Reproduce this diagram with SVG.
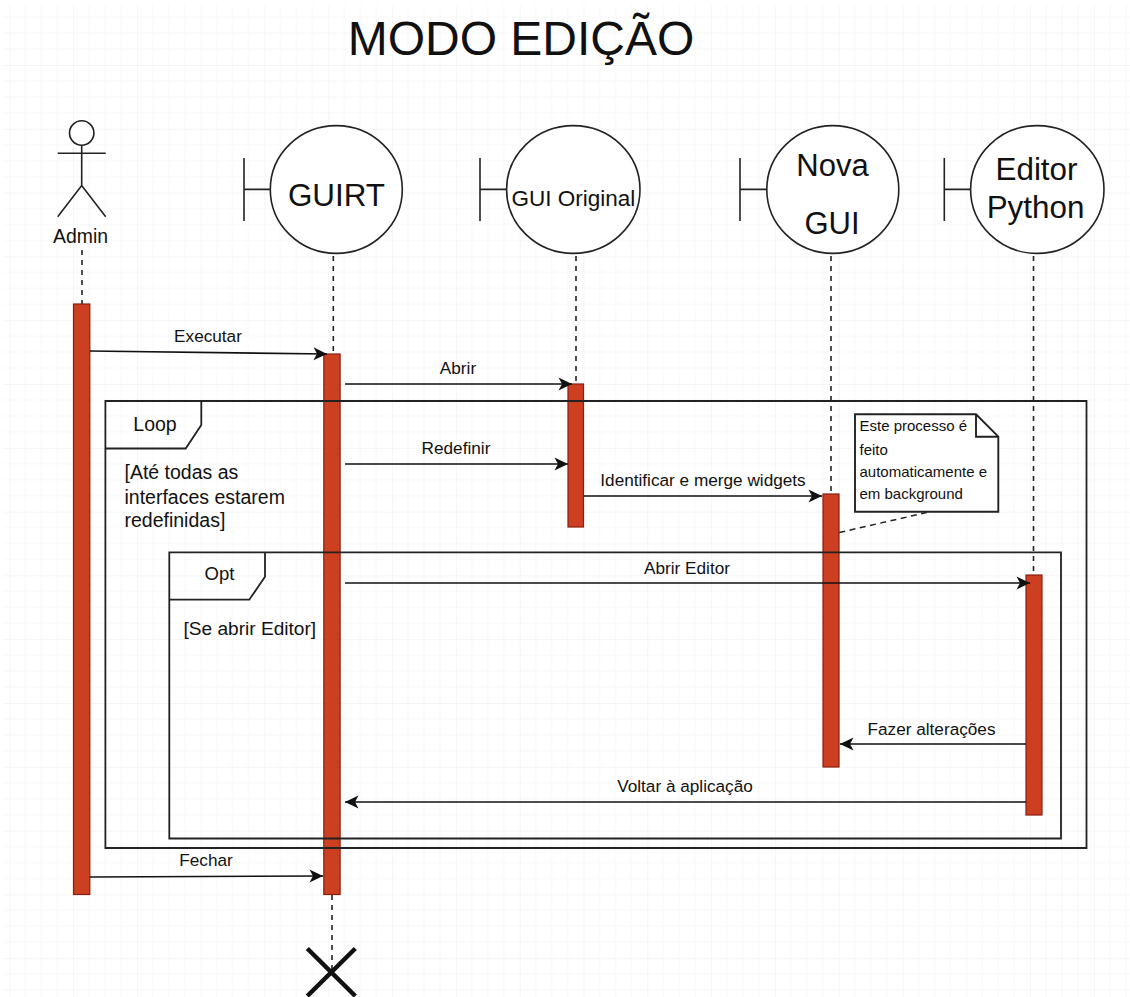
<svg xmlns="http://www.w3.org/2000/svg" width="1130" height="997" viewBox="0 0 1130 997">
<style>
text{font-family:"Liberation Sans",Arial,sans-serif;fill:#111}
.s{font-size:17.2px}
.m{text-anchor:middle}
.shape{fill:#fff;stroke:#222;stroke-width:1.6}
.frame{fill:none;stroke:#222;stroke-width:1.8}
.bar{fill:#cc3f21;stroke:#8a1f10;stroke-width:1.2}
.life{stroke:#222;stroke-width:1.6;stroke-dasharray:5 5;fill:none}
.msg{stroke:#111;stroke-width:1.6;fill:none;marker-end:url(#arr)}
.big{font-size:31.4px}
.limb{fill:none;stroke:#222;stroke-width:1.6}
.note{font-size:15px}
.fr{font-size:19.500px}
</style>
<defs>
<marker id="arr" viewBox="0 0 15 14" refX="14" refY="7" markerWidth="15" markerHeight="14" markerUnits="userSpaceOnUse" orient="auto">
<path d="M0.500 0.500 L14 7 L0.500 13.500 L4 7 Z" fill="#111"/>
</marker>
<pattern id="grid" patternUnits="userSpaceOnUse" x="9.3" y="1.2" width="63.8" height="63.8">
<path d="M15.95 0V63.8M31.9 0V63.8M47.85 0V63.8M0 15.95H63.8M0 31.9H63.8M0 47.85H63.8" stroke="#f8f8f8" stroke-width="1" fill="none"/>
<path d="M0 0V63.8M0 0H63.8" stroke="#ebebeb" stroke-width="1" fill="none"/>
</pattern>
</defs>
<rect width="1130" height="997" fill="#fff"/>
<rect id="grid-bg" x="3" y="5" width="1127" height="992" fill="url(#grid)"/>
<text id="title" x="521" y="55" class="m" font-size="48">MODO EDIÇÃO</text>

<g id="connectors-lifelines">
<path class="life" d="M82 250V304"/>
<path class="life" d="M333.300 256V354"/>
<path class="life" d="M576 256V384"/>
<path class="life" d="M831 256V494"/>
<path class="life" d="M1033.500 256V575"/>
<path class="life" d="M332 895V975"/>
</g>

<g id="admin">
<circle cx="81.700" cy="133" r="12.200" class="shape"/>
<path class="limb" d="M81.700 145V185.500M57.700 153.300H105.700M57.700 216.700L81.700 185.500L105.700 216.700"/>
<text x="80.500" y="243" class="m" font-size="19.400">Admin</text>
<rect class="bar" x="73.500" y="304" width="16.300" height="590.500"/>
</g>
<g id="guirt">
<ellipse cx="336.300" cy="189.500" rx="66" ry="63.900" class="shape"/>
<path class="limb" d="M270.300 189.400H244M244 158V221"/>
<text x="336.500" y="205.700" class="m big">GUIRT</text>
<rect class="bar" x="323.800" y="354" width="16.300" height="540.500"/>
</g>
<g id="gui-original">
<ellipse cx="573.300" cy="189.500" rx="66.700" ry="63.900" class="shape"/>
<path class="limb" d="M506.700 189.400H480M480 158V221"/>
<text x="573.300" y="206" class="m" font-size="22.500">GUI Original</text>
<rect class="bar" x="568" y="384" width="15.500" height="143"/>
</g>
<g id="nova-gui">
<ellipse cx="832.800" cy="189.500" rx="66" ry="63.900" class="shape"/>
<path class="limb" d="M766.800 189.400H740M740 158V221"/>
<text x="832.500" y="175.700" class="m" font-size="31">Nova</text>
<text x="832" y="233.500" class="m" font-size="31">GUI</text>
<rect class="bar" x="823" y="494" width="16" height="273"/>
</g>
<g id="editor-python">
<ellipse cx="1037.300" cy="189.500" rx="66.700" ry="63.900" class="shape"/>
<path class="limb" d="M970.700 189.400H944.300M944.300 158V221"/>
<text x="1036.500" y="180" class="m big">Editor</text>
<text x="1035.500" y="218" class="m big">Python</text>
<rect class="bar" x="1026" y="575" width="16" height="240"/>
</g>

<g id="frame-loop">
<path class="frame" d="M105.400 401H1086.500V848H105.400Z"/>
<path class="frame" d="M105.400 448.500H185.700L201.300 425V401"/>
<text x="155" y="430.500" class="m fr">Loop</text>
<text x="124.500" y="479.300" class="fr">[Até todas as</text>
<text x="124.500" y="504" class="fr">interfaces estarem</text>
<text x="124.500" y="526.500" class="fr">redefinidas]</text>
</g>
<g id="frame-opt">
<path class="frame" d="M169.300 552.300H1061V838.500H169.300Z"/>
<path class="frame" d="M169.300 599.700H249.300L265 576.700V552.300"/>
<text x="219.500" y="580" class="m" font-size="18.500">Opt</text>
<text x="183.500" y="634.500" font-size="19.100">[Se abrir Editor]</text>
</g>

<g id="note">
<path d="M855 414.300H976L998.300 436.700V511.700H855Z" class="shape" style="stroke-width:1.9"/>
<path d="M976 414.300V436.700H998.300" class="shape" style="fill:none;stroke-width:1.9"/>
<text x="859.500" y="431" class="note">Este processo é</text>
<text x="859.500" y="455" class="note">feito</text>
<text x="859.500" y="477" class="note">automaticamente e</text>
<text x="859.500" y="499.300" class="note">em background</text>
</g>
<g id="destroy">
<path d="M307.300 948.500L355.300 996M355.300 948.500L307.300 996" stroke="#111" stroke-width="4.500" fill="none"/>
</g>

<g id="connectors">
<path class="msg" d="M90 351L327 354"/>
<path class="msg" d="M345 384H572"/>
<path class="msg" d="M345 464H568"/>
<path class="msg" d="M584 496H822"/>
<path class="msg" d="M345 583H1030"/>
<path class="msg" d="M1026 744H840"/>
<path class="msg" d="M1026 802H345"/>
<path class="msg" d="M90 877L323 876"/>
<path d="M839.300 532.500L926.700 512.500" stroke="#222" stroke-width="1.500" style="stroke-dasharray:6 4.500" fill="none"/>
</g>
<g id="labels">
<text x="208" y="342" class="m s">Executar</text>
<text x="458" y="374" class="m s">Abrir</text>
<text x="456" y="454" class="m s">Redefinir</text>
<text x="703" y="486" class="m s">Identificar e merge widgets</text>
<text x="687" y="574" class="m s">Abrir Editor</text>
<text x="931.500" y="735" class="m s">Fazer alterações</text>
<text x="685" y="792" class="m s">Voltar à aplicação</text>
<text x="206" y="866" class="m s">Fechar</text>
</g>
</svg>
